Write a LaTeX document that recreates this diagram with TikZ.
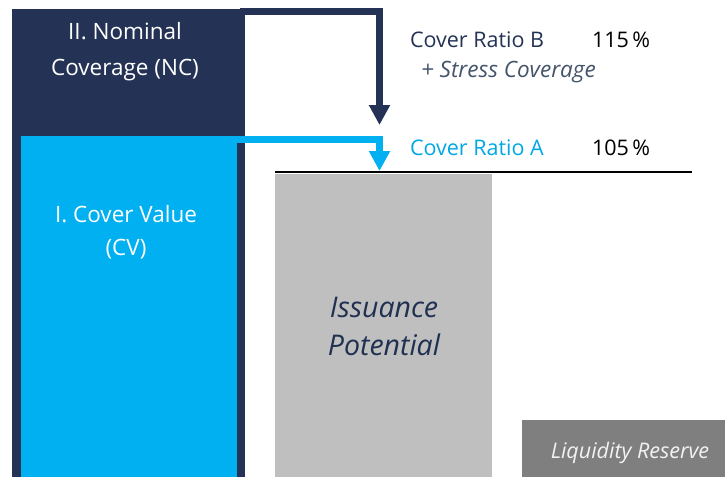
\documentclass[tikz,border=0pt]{standalone}
\usepackage{fontspec}
\setmainfont{Open Sans}
\usetikzlibrary{arrows.meta}
\definecolor{navy}{HTML}{243355}
\definecolor{cyanb}{HTML}{00B0F0}
\definecolor{cyant}{HTML}{00A8E6}
\definecolor{lgray}{HTML}{BFBFBF}
\definecolor{dgray}{HTML}{7F7F7F}
\definecolor{ipnavy}{HTML}{1F3050}
\definecolor{stressc}{HTML}{44546A}
\definecolor{baseline}{HTML}{1A1A2E}
\tikzset{
  x=1pt, y=-1pt,
  boxn/.style={anchor=north west, inner sep=0pt, outer sep=0pt, draw=none},
  lbl/.style={inner sep=0pt, outer sep=0pt, font=\fontsize{22.5}{26}\selectfont},
  ratio/.style={inner sep=0pt, outer sep=0pt, anchor=base west, font=\fontsize{21.5}{25}\selectfont},
  flow/.style={line width=7pt, line join=miter, -{Triangle[length=20pt,width=20pt]}},
}
\begin{document}
\begin{tikzpicture}
\useasboundingbox[fill=white] (0,0) rectangle (725,477);
% boxes
\node[boxn, fill=navy, minimum width=233pt, minimum height=468.5pt] (nc) at (12,8.5) {};
\node[boxn, fill=cyanb, minimum width=216pt, minimum height=341pt] (cv) at (21,136) {};
\node[boxn, fill=lgray, minimum width=217pt, minimum height=303pt] (ip) at (275,174) {};
\node[boxn, fill=dgray, minimum width=203pt, minimum height=57pt] (lr) at (522,420) {};
% base line
\coordinate (l1) at (275,172);
\coordinate (l2) at (692,172);
\draw[baseline, line width=2pt] (l1) -- (l2);
% arrows
\coordinate (bs) at (240,11.5);
\coordinate (be) at (379.5,125);
\coordinate (as) at (230,139.5);
\coordinate (ae) at (379.5,171);
\draw[flow, navy] (bs) -| (be);
\draw[flow, cyanb] (as) -| (ae);
% box texts
\node[lbl, white, anchor=base] (nc1) at (125,39) {II. Nominal};
\node[lbl, white, anchor=base] (nc2) at (125,75) {Coverage (NC)};
\node[lbl, white, anchor=base] (cv1) at (126,222) {I. Cover Value};
\node[lbl, white, anchor=base] (cv2) at (126,255) {(CV)};
\node[inner sep=0pt, anchor=base, ipnavy, font=\fontsize{28.5}{32}\itshape\selectfont] (ip1) at (384,317) {Issuance};
\node[inner sep=0pt, anchor=base, ipnavy, font=\fontsize{28.5}{32}\itshape\selectfont] (ip2) at (384,355) {Potential};
\node[inner sep=0pt, anchor=base, color={white!95!black}, font=\fontsize{21.5}{24}\itshape\selectfont] (lrt) at (630,458) {Liquidity Reserve};
% ratio texts
\node[ratio, navy] (crb) at (410,47) {Cover Ratio B};
\node[ratio, black] (crbv) at (592,47) {115\,\%};
\node[ratio, stressc, font=\fontsize{22.5}{25}\itshape\selectfont] (sc) at (421,77) {+ Stress Coverage};
\node[ratio, cyant] (cra) at (410,155) {Cover Ratio A};
\node[ratio, black] (crav) at (592,155) {105\,\%};
\end{tikzpicture}
\end{document}
